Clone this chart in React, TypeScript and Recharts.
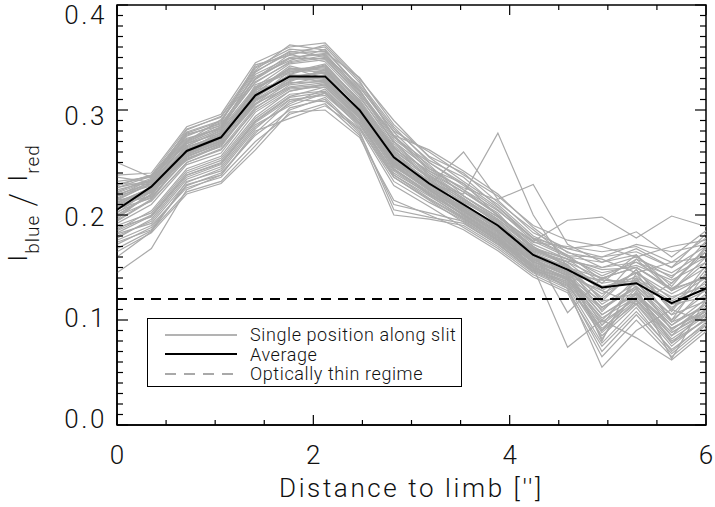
import React from "react";
import { Legend, Line, LineChart, ReferenceArea, ReferenceLine, XAxis, YAxis } from "recharts";

// distance to limb ["] of each sample along the slit
const DISTANCE = [0, 0.35, 0.71, 1.06, 1.41, 1.76, 2.12, 2.47, 2.82, 3.18, 3.53, 3.88, 4.24, 4.59, 4.94, 5.29, 5.65, 6.0];

// black curve
const AVERAGE = [0.205, 0.227, 0.261, 0.274, 0.314, 0.332, 0.332, 0.3, 0.255, 0.23, 0.21, 0.19, 0.162, 0.148, 0.131, 0.135, 0.116, 0.13];

const THIN_REGIME = 0.12;

// one row per position along the slit (grey curves)
const SINGLE_POSITIONS: number[][] = [
  [0.238, 0.24, 0.284, 0.296, 0.345, 0.36, 0.364, 0.33, 0.29, 0.255, 0.232, 0.21, 0.18, 0.165, 0.15, 0.16, 0.14, 0.175],
  [0.232, 0.236, 0.279, 0.29, 0.34, 0.355, 0.36, 0.326, 0.284, 0.25, 0.228, 0.205, 0.175, 0.16, 0.142, 0.155, 0.135, 0.168],
  [0.229, 0.238, 0.282, 0.293, 0.338, 0.362, 0.357, 0.322, 0.279, 0.246, 0.224, 0.2, 0.172, 0.158, 0.148, 0.15, 0.128, 0.16],
  [0.226, 0.233, 0.275, 0.288, 0.343, 0.352, 0.362, 0.328, 0.275, 0.242, 0.226, 0.214, 0.183, 0.168, 0.16, 0.165, 0.15, 0.182],
  [0.236, 0.231, 0.277, 0.285, 0.334, 0.35, 0.354, 0.318, 0.272, 0.248, 0.218, 0.196, 0.17, 0.15, 0.12, 0.148, 0.11, 0.152],
  [0.222, 0.235, 0.272, 0.283, 0.336, 0.356, 0.351, 0.324, 0.282, 0.252, 0.236, 0.208, 0.178, 0.162, 0.138, 0.158, 0.145, 0.165],
  [0.23, 0.229, 0.27, 0.291, 0.332, 0.347, 0.358, 0.32, 0.268, 0.24, 0.222, 0.202, 0.166, 0.155, 0.13, 0.145, 0.12, 0.14],
  [0.25, 0.236, 0.276, 0.287, 0.329, 0.349, 0.349, 0.315, 0.276, 0.244, 0.23, 0.199, 0.174, 0.17, 0.165, 0.17, 0.155, 0.178],
  [0.224, 0.232, 0.281, 0.294, 0.341, 0.358, 0.355, 0.331, 0.286, 0.256, 0.24, 0.212, 0.186, 0.16, 0.155, 0.162, 0.132, 0.17],
  [0.228, 0.238, 0.273, 0.282, 0.33, 0.353, 0.346, 0.312, 0.27, 0.238, 0.216, 0.194, 0.168, 0.152, 0.108, 0.14, 0.1, 0.145],
  [0.212, 0.226, 0.265, 0.276, 0.32, 0.338, 0.34, 0.306, 0.262, 0.236, 0.214, 0.192, 0.164, 0.15, 0.132, 0.138, 0.118, 0.135],
  [0.205, 0.222, 0.258, 0.27, 0.312, 0.332, 0.336, 0.302, 0.258, 0.232, 0.21, 0.188, 0.16, 0.146, 0.125, 0.142, 0.112, 0.128],
  [0.2, 0.219, 0.262, 0.279, 0.316, 0.34, 0.33, 0.298, 0.252, 0.228, 0.212, 0.195, 0.158, 0.142, 0.1, 0.13, 0.095, 0.12],
  [0.215, 0.23, 0.26, 0.272, 0.322, 0.335, 0.342, 0.31, 0.265, 0.234, 0.208, 0.186, 0.166, 0.155, 0.14, 0.15, 0.13, 0.15],
  [0.208, 0.224, 0.255, 0.268, 0.308, 0.328, 0.338, 0.304, 0.26, 0.23, 0.206, 0.184, 0.162, 0.148, 0.115, 0.135, 0.105, 0.138],
  [0.198, 0.22, 0.266, 0.281, 0.318, 0.342, 0.334, 0.296, 0.25, 0.226, 0.204, 0.182, 0.154, 0.14, 0.09, 0.125, 0.085, 0.118],
  [0.218, 0.228, 0.252, 0.266, 0.31, 0.325, 0.332, 0.3, 0.256, 0.233, 0.215, 0.196, 0.168, 0.158, 0.145, 0.152, 0.138, 0.155],
  [0.21, 0.218, 0.263, 0.275, 0.306, 0.33, 0.328, 0.294, 0.248, 0.225, 0.202, 0.18, 0.156, 0.138, 0.11, 0.132, 0.1, 0.125],
  [0.202, 0.225, 0.257, 0.271, 0.324, 0.336, 0.344, 0.308, 0.264, 0.238, 0.218, 0.198, 0.17, 0.152, 0.128, 0.145, 0.125, 0.142],
  [0.214, 0.221, 0.268, 0.278, 0.314, 0.333, 0.326, 0.298, 0.254, 0.229, 0.207, 0.19, 0.161, 0.145, 0.082, 0.128, 0.078, 0.11],
  [0.196, 0.223, 0.254, 0.265, 0.309, 0.327, 0.339, 0.305, 0.259, 0.235, 0.211, 0.189, 0.163, 0.15, 0.135, 0.14, 0.122, 0.132],
  [0.206, 0.216, 0.259, 0.273, 0.317, 0.331, 0.335, 0.299, 0.253, 0.231, 0.209, 0.187, 0.159, 0.147, 0.095, 0.138, 0.09, 0.115],
  [0.22, 0.229, 0.264, 0.277, 0.311, 0.337, 0.337, 0.303, 0.257, 0.227, 0.205, 0.185, 0.157, 0.144, 0.138, 0.136, 0.115, 0.122],
  [0.195, 0.215, 0.256, 0.269, 0.319, 0.329, 0.331, 0.297, 0.251, 0.232, 0.213, 0.193, 0.165, 0.153, 0.118, 0.148, 0.108, 0.148],
  [0.209, 0.227, 0.261, 0.274, 0.313, 0.334, 0.343, 0.307, 0.261, 0.237, 0.216, 0.191, 0.167, 0.156, 0.15, 0.155, 0.142, 0.16],
  [0.203, 0.217, 0.253, 0.267, 0.305, 0.326, 0.327, 0.295, 0.249, 0.224, 0.203, 0.183, 0.155, 0.143, 0.105, 0.126, 0.092, 0.108],
  [0.185, 0.2, 0.24, 0.252, 0.292, 0.315, 0.318, 0.29, 0.24, 0.22, 0.2, 0.178, 0.15, 0.138, 0.098, 0.12, 0.085, 0.105],
  [0.178, 0.196, 0.236, 0.248, 0.288, 0.31, 0.314, 0.286, 0.236, 0.215, 0.196, 0.175, 0.148, 0.135, 0.088, 0.118, 0.08, 0.1],
  [0.182, 0.192, 0.231, 0.244, 0.284, 0.306, 0.32, 0.288, 0.238, 0.218, 0.198, 0.176, 0.152, 0.14, 0.112, 0.13, 0.098, 0.112],
  [0.172, 0.188, 0.228, 0.24, 0.276, 0.3, 0.312, 0.28, 0.205, 0.198, 0.192, 0.172, 0.146, 0.132, 0.078, 0.112, 0.07, 0.098],
  [0.176, 0.19, 0.226, 0.236, 0.27, 0.296, 0.306, 0.276, 0.2, 0.196, 0.19, 0.17, 0.145, 0.13, 0.07, 0.105, 0.068, 0.095],
  [0.168, 0.185, 0.222, 0.232, 0.266, 0.302, 0.31, 0.278, 0.21, 0.202, 0.194, 0.174, 0.149, 0.134, 0.085, 0.115, 0.075, 0.102],
  [0.188, 0.198, 0.238, 0.25, 0.29, 0.313, 0.322, 0.292, 0.244, 0.222, 0.201, 0.179, 0.151, 0.139, 0.102, 0.122, 0.088, 0.108],
  [0.18, 0.194, 0.234, 0.246, 0.286, 0.304, 0.316, 0.284, 0.232, 0.212, 0.195, 0.173, 0.147, 0.137, 0.092, 0.119, 0.082, 0.104],
  [0.174, 0.186, 0.229, 0.238, 0.28, 0.292, 0.304, 0.282, 0.228, 0.208, 0.188, 0.168, 0.143, 0.128, 0.075, 0.108, 0.072, 0.096],
  [0.165, 0.183, 0.22, 0.23, 0.262, 0.298, 0.3, 0.274, 0.214, 0.2, 0.186, 0.166, 0.141, 0.126, 0.065, 0.1, 0.065, 0.092],
  [0.19, 0.202, 0.242, 0.254, 0.294, 0.318, 0.324, 0.294, 0.246, 0.224, 0.199, 0.177, 0.153, 0.141, 0.105, 0.124, 0.092, 0.11],
  [0.145, 0.168, 0.224, 0.238, 0.278, 0.308, 0.316, 0.287, 0.242, 0.219, 0.197, 0.176, 0.15, 0.136, 0.095, 0.122, 0.088, 0.106],
  [0.16, 0.184, 0.232, 0.242, 0.282, 0.31, 0.308, 0.283, 0.236, 0.214, 0.193, 0.172, 0.147, 0.133, 0.09, 0.116, 0.078, 0.1],
  [0.21, 0.224, 0.26, 0.27, 0.31, 0.33, 0.332, 0.3, 0.25, 0.23, 0.22, 0.278, 0.2, 0.15, 0.14, 0.15, 0.13, 0.14],
  [0.214, 0.23, 0.266, 0.28, 0.32, 0.34, 0.338, 0.304, 0.254, 0.228, 0.26, 0.215, 0.229, 0.172, 0.155, 0.168, 0.15, 0.17],
  [0.216, 0.232, 0.268, 0.282, 0.322, 0.344, 0.348, 0.314, 0.266, 0.24, 0.218, 0.198, 0.175, 0.195, 0.198, 0.178, 0.199, 0.189],
  [0.2, 0.22, 0.256, 0.268, 0.306, 0.322, 0.326, 0.296, 0.248, 0.224, 0.204, 0.184, 0.15, 0.074, 0.1, 0.083, 0.062, 0.089],
  [0.194, 0.214, 0.25, 0.262, 0.3, 0.32, 0.322, 0.29, 0.244, 0.22, 0.2, 0.18, 0.152, 0.13, 0.055, 0.09, 0.11, 0.098],
  [0.218, 0.234, 0.27, 0.284, 0.326, 0.346, 0.352, 0.316, 0.27, 0.244, 0.224, 0.204, 0.178, 0.168, 0.172, 0.184, 0.16, 0.185],
  [0.207, 0.223, 0.259, 0.272, 0.315, 0.333, 0.329, 0.299, 0.252, 0.226, 0.208, 0.186, 0.158, 0.145, 0.112, 0.132, 0.063, 0.12],
  [0.212, 0.226, 0.258, 0.27, 0.312, 0.334, 0.33, 0.298, 0.25, 0.228, 0.206, 0.188, 0.165, 0.107, 0.14, 0.132, 0.105, 0.118],
  [0.226, 0.237, 0.278, 0.289, 0.337, 0.354, 0.356, 0.322, 0.28, 0.26, 0.238, 0.218, 0.19, 0.176, 0.17, 0.16, 0.17, 0.176],
  [0.219, 0.231, 0.269, 0.284, 0.327, 0.345, 0.35, 0.318, 0.276, 0.262, 0.242, 0.22, 0.188, 0.164, 0.158, 0.145, 0.155, 0.16],
  [0.192, 0.21, 0.248, 0.259, 0.302, 0.324, 0.328, 0.296, 0.246, 0.226, 0.206, 0.184, 0.156, 0.142, 0.128, 0.115, 0.135, 0.165],
  [0.186, 0.204, 0.244, 0.256, 0.298, 0.318, 0.325, 0.293, 0.243, 0.221, 0.2, 0.178, 0.155, 0.146, 0.122, 0.158, 0.128, 0.142],
  [0.199, 0.213, 0.25, 0.263, 0.303, 0.321, 0.324, 0.292, 0.247, 0.223, 0.203, 0.181, 0.158, 0.152, 0.08, 0.145, 0.098, 0.13],
  [0.211, 0.225, 0.262, 0.276, 0.321, 0.339, 0.341, 0.309, 0.263, 0.242, 0.222, 0.2, 0.169, 0.158, 0.135, 0.162, 0.128, 0.155],
  [0.221, 0.233, 0.271, 0.286, 0.33, 0.35, 0.353, 0.319, 0.274, 0.25, 0.23, 0.207, 0.177, 0.161, 0.16, 0.172, 0.165, 0.172],
  [0.183, 0.199, 0.238, 0.249, 0.289, 0.312, 0.317, 0.288, 0.238, 0.216, 0.197, 0.176, 0.149, 0.14, 0.118, 0.125, 0.095, 0.115],
];

const X_TICKS = [0, 0.5, 1, 1.5, 2, 2.5, 3, 3.5, 4, 4.5, 5, 5.5, 6];
const X_LABELS = [0, 2, 4, 6];
const Y_TICKS = [
  0, 0.01, 0.02, 0.03, 0.04, 0.05, 0.06, 0.07, 0.08, 0.09, 0.1, 0.11, 0.12, 0.13, 0.14, 0.15, 0.16, 0.17, 0.18, 0.19, 0.2,
  0.21, 0.22, 0.23, 0.24, 0.25, 0.26, 0.27, 0.28, 0.29, 0.3, 0.31, 0.32, 0.33, 0.34, 0.35, 0.36, 0.37, 0.38, 0.39, 0.4,
];
const Y_LABELS = [0, 0.1, 0.2, 0.3, 0.4];

const LEGEND = [
  { label: "Single position along slit", color: "#9a9a9a", width: 1.5, dash: "" },
  { label: "Average", color: "#000", width: 2, dash: "" },
  { label: "Optically thin regime", color: "#555", width: 1.2, dash: "11 8" },
];

const W = 715;
const H = 507;
const MARGIN = { top: 5, right: 9, bottom: 0, left: 0 };
const FONT = "Roboto, 'DejaVu Sans', sans-serif";
const GREY = "#aaaaaa";

const rows = DISTANCE.map((x, i) => {
  const row: Record<string, number> = { x, avg: AVERAGE[i] };
  SINGLE_POSITIONS.forEach((s, k) => (row[`s${k}`] = s[i]));
  return row;
});

const near = (list: number[], v: number) => list.some((l) => Math.abs(l - v) < 1e-6);

const textStyle = { fontSize: 26, fontWeight: 300, fontFamily: FONT, fill: "#111", letterSpacing: 2.6 };

function XTick({ x, y, payload }: any) {
  const v = payload.value;
  const major = near(X_LABELS, v);
  const len = major ? 10 : 5;
  return (
    <g>
      <line x1={x} x2={x} y1={y} y2={y - len} stroke="#000" strokeWidth={1.2} />
      <line x1={x} x2={x} y1={MARGIN.top} y2={MARGIN.top + len} stroke="#000" strokeWidth={1.2} />
      {major && (
        <text x={x} y={y + 39} textAnchor="middle" style={{ ...textStyle, letterSpacing: 0 }}>
          {v}
        </text>
      )}
    </g>
  );
}

function YTick({ x, y, payload }: any) {
  const v = payload.value;
  const major = near(Y_LABELS, v);
  const len = major ? 11 : 6;
  const right = W - MARGIN.right;
  return (
    <g>
      <line x1={x} x2={x + len} y1={y} y2={y} stroke="#000" strokeWidth={1.2} />
      <line x1={right} x2={right - len} y1={y} y2={y} stroke="#000" strokeWidth={1.2} />
      {major && (
        <text x={x - 10} y={y + 3 + 40 * v} textAnchor="end" style={textStyle}>
          {v.toFixed(1)}
        </text>
      )}
    </g>
  );
}

function XTitle({ viewBox }: any) {
  return (
    <text x={viewBox.x + viewBox.width / 2} y={viewBox.y + 72} textAnchor="middle" style={textStyle}>
      Distance to limb ['']
    </text>
  );
}

function YTitle() {
  const cx = 27;
  const cy = 203;
  return (
    <text transform={`rotate(-90, ${cx}, ${cy})`} x={cx} y={cy} textAnchor="middle" style={{ ...textStyle, letterSpacing: 1 }}>
      <tspan>I</tspan>
      <tspan fontSize={19} dy={12}>blue</tspan>
      <tspan dy={-4} dx={8} fontSize={36} fontWeight={200}>/</tspan>
      <tspan dy={-8} dx={10}>I</tspan>
      <tspan fontSize={19} dy={12}>red</tspan>
    </text>
  );
}

function LegendBox() {
  return (
    <div
      style={{
        border: "1.5px solid #000",
        background: "#fff",
        width: 315,
        height: 69,
        boxSizing: "border-box",
        padding: "6px 0 0 17px",
        fontFamily: FONT,
        fontWeight: 300,
        fontSize: 18,
        letterSpacing: 0.6,
        color: "#111",
      }}
    >
      {LEGEND.map((e) => (
        <div key={e.label} style={{ display: "flex", alignItems: "center", height: 19.5, whiteSpace: "nowrap" }}>
          <svg width={72} height={6} style={{ marginRight: 13, flex: "none" }}>
            <line x1={0} x2={72} y1={3} y2={3} stroke={e.color} strokeWidth={e.width} strokeDasharray={e.dash} />
          </svg>
          <span>{e.label}</span>
        </div>
      ))}
    </div>
  );
}

export default function App() {
  return (
    <div style={{ position: "absolute", left: 0, top: 0, width: W, height: H, background: "#fff" }}>
      <LineChart width={W} height={H} data={rows} margin={MARGIN}>
        <XAxis
          dataKey="x"
          type="number"
          domain={[0, 6]}
          ticks={X_TICKS}
          interval={0}
          height={82}
          tickSize={0}
          tickMargin={0}
          tickLine={false}
          axisLine={{ stroke: "#000", strokeWidth: 1.5 }}
          tick={<XTick />}
          label={<XTitle />}
        />
        <YAxis
          type="number"
          domain={[0, 0.4]}
          ticks={Y_TICKS}
          interval={0}
          width={117}
          tickSize={0}
          tickMargin={0}
          tickLine={false}
          axisLine={{ stroke: "#000", strokeWidth: 1.5 }}
          tick={<YTick />}
          label={<YTitle />}
        />
        {SINGLE_POSITIONS.map((_, k) => (
          <Line
            key={k}
            dataKey={`s${k}`}
            stroke={GREY}
            strokeWidth={1.2}
            dot={false}
            activeDot={false}
            isAnimationActive={false}
            legendType="none"
          />
        ))}
        <ReferenceLine y={THIN_REGIME} stroke="#000" strokeWidth={2} strokeDasharray="10 7" />
        <Line dataKey="avg" stroke="#000" strokeWidth={2} dot={false} activeDot={false} isAnimationActive={false} />
        <ReferenceArea x1={0} x2={6} y1={0} y2={0.4} fill="none" stroke="#000" strokeWidth={1.5} fillOpacity={0} />
        <Legend
          layout="vertical"
          align="center"
          verticalAlign="middle"
          content={<LegendBox />}
          wrapperStyle={{ position: "absolute", left: 147, top: 318, width: 315, height: 69 }}
        />
      </LineChart>
    </div>
  );
}
